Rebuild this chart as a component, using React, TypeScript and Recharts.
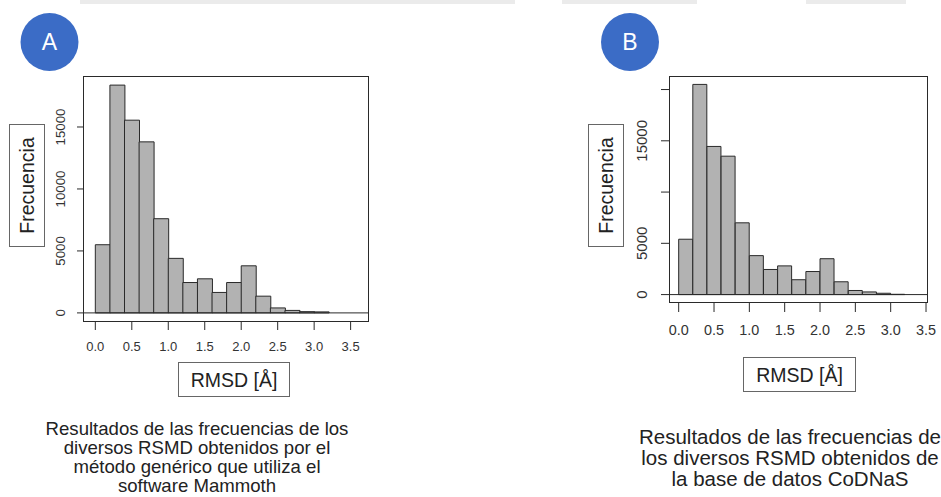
import React from 'react';
import { ComposedChart, Bar, XAxis, YAxis, ReferenceLine } from 'recharts';

// ---- Data ----
const binMidsA = [0.1, 0.3, 0.5, 0.7, 0.9, 1.1, 1.3, 1.5, 1.7, 1.9, 2.1, 2.3, 2.5, 2.7, 2.9, 3.1];
const freqA = [5500, 18380, 15550, 13800, 7600, 4400, 2450, 2750, 1650, 2450, 3800, 1350, 400, 200, 100, 80];

const binMidsB = [0.1, 0.3, 0.5, 0.7, 0.9, 1.1, 1.3, 1.5, 1.7, 1.9, 2.1, 2.3, 2.5, 2.7, 2.9, 3.1];
const freqB = [5400, 20500, 14450, 13500, 7000, 3800, 2450, 2800, 1450, 2250, 3500, 1250, 400, 260, 130, 30];

const xTicks = [0, 0.5, 1, 1.5, 2, 2.5, 3, 3.5];
const yTicksA = [0, 5000, 10000, 15000];
const yLabelsA = [0, 5000, 10000, 15000];
const yTicksB = [0, 5000, 10000, 15000, 20000];
const yLabelsB = [0, 5000, 15000];

const captionA = [
  'Resultados de las frecuencias de los',
  'diversos RSMD obtenidos por el',
  'método genérico que utiliza el',
  'software Mammoth',
];
const captionB = [
  'Resultados de las frecuencias de',
  'los diversos RSMD obtenidos de',
  'la base de datos CoDNaS',
];

const dataA = binMidsA.map((x, i) => ({ x, freq: freqA[i] }));
const dataB = binMidsB.map((x, i) => ({ x, freq: freqB[i] }));

const FONT = '"Liberation Sans", Arial, Helvetica, sans-serif';
const INK = '#2a2a2a';

const makeYTick = (offset: number, fontSize: number, shown: number[]) => (props: any) => {
  const { x, y, payload } = props;
  if (!shown.includes(payload.value)) return <g />;
  const cx = x - offset;
  return (
    <text
      x={cx}
      y={y}
      transform={`rotate(-90 ${cx} ${y})`}
      textAnchor="middle"
      dy="0.36em"
      fontSize={fontSize}
      fontFamily={FONT}
      fill="#333"
    >
      {payload.value}
    </text>
  );
};

type PanelProps = {
  data: { x: number; freq: number }[];
  left: number;
  width: number;
  margin: { top: number; right: number; bottom: number; left: number };
  yWidth: number;
  xDomain: [number, number];
  yDomain: [number, number];
  yTicks: number[];
  yLabels: number[];
  xFont: number;
  yFont: number;
  xTickSize: number;
  yTickSize: number;
  xTickMargin: number;
  yLabelOffset: number;
};

function Panel(p: PanelProps) {
  return (
    <div style={{ position: 'absolute', left: p.left, top: 0 }}>
      <ComposedChart width={p.width} height={497} data={p.data} margin={p.margin} barCategoryGap={0} barGap={0}>
        <XAxis
          dataKey="x"
          type="number"
          domain={p.xDomain}
          allowDataOverflow
          ticks={xTicks}
          interval={0}
          tickFormatter={(v: number) => v.toFixed(1)}
          axisLine={false}
          tickLine={{ stroke: INK }}
          tickSize={p.xTickSize}
          tickMargin={p.xTickMargin}
          height={40}
          tick={{ fontSize: p.xFont, fontFamily: FONT, fill: '#333' }}
        />
        <YAxis
          type="number"
          domain={p.yDomain}
          allowDataOverflow
          ticks={p.yTicks}
          interval={0}
          axisLine={false}
          tickLine={{ stroke: INK }}
          tickSize={p.yTickSize}
          tickMargin={0}
          width={p.yWidth}
          tick={makeYTick(p.yLabelOffset, p.yFont, p.yLabels)}
        />
        <ReferenceLine y={0} stroke={INK} strokeWidth={1} />
        <Bar dataKey="freq" fill="#b2b2b2" stroke={INK} strokeWidth={1} isAnimationActive={false} />
      </ComposedChart>
    </div>
  );
}

export default function App() {
  return (
    <div
      style={{
        position: 'absolute',
        left: 0,
        top: 0,
        width: 941,
        height: 497,
        background: '#ffffff',
        overflow: 'hidden',
        fontFamily: FONT,
      }}
    >
      <Panel
        data={dataA}
        left={0}
        width={470}
        margin={{ top: 76, right: 101, bottom: 135, left: 0 }}
        yWidth={83}
        xDomain={[-0.169, 3.752]}
        yDomain={[-735, 19115]}
        yTicks={yTicksA}
        yLabels={yLabelsA}
        xFont={13}
        yFont={13.3}
        xTickSize={8}
        yTickSize={6}
        xTickMargin={12}
        yLabelOffset={17}
      />
      <Panel
        data={dataB}
        left={560}
        width={381}
        margin={{ top: 76, right: 13, bottom: 154, left: 0 }}
        yWidth={109}
        xDomain={[-0.137, 3.528]}
        yDomain={[-820, 21320]}
        yTicks={yTicksB}
        yLabels={yLabelsB}
        xFont={14.4}
        yFont={15}
        xTickSize={9}
        yTickSize={8}
        xTickMargin={13}
        yLabelOffset={19}
      />
      <svg
        width={941}
        height={497}
        style={{ position: 'absolute', left: 0, top: 0, pointerEvents: 'none' }}
      >
        {/* faint strips at the top edge */}
        <rect x={80} y={0} width={435} height={4} fill="#ebebeb" />
        <rect x={562} y={0} width={135} height={4} fill="#ebebeb" />
        <rect x={806} y={0} width={100} height={4} fill="#ebebeb" />

        {/* plot boxes */}
        <rect x={83.5} y={76.5} width={285} height={245} fill="none" stroke={INK} strokeWidth={1} />
        <rect x={669.5} y={76.5} width={258} height={226} fill="none" stroke={INK} strokeWidth={1} />

        {/* panel markers */}
        <circle cx={49.5} cy={42} r={29} fill="#3b6cc6" />
        <text x={49.5} y={42} dy="0.36em" textAnchor="middle" fontSize={23} fontFamily={FONT} fill="#ffffff">A</text>
        <circle cx={630} cy={42} r={29} fill="#3b6cc6" />
        <text x={630} y={42} dy="0.36em" textAnchor="middle" fontSize={23} fontFamily={FONT} fill="#ffffff">B</text>

        {/* y axis titles */}
        <rect x={9.5} y={124.5} width={35} height={122} fill="#fff" stroke="#666" strokeWidth={1} />
        <text x={27} y={185.5} dy="0.36em" transform="rotate(-90 27 185.5)" textAnchor="middle" fontSize={19.5} fontFamily={FONT} fill="#222">Frecuencia</text>
        <rect x={588.5} y={124.5} width={35} height={122} fill="#fff" stroke="#666" strokeWidth={1} />
        <text x={606} y={185.5} dy="0.36em" transform="rotate(-90 606 185.5)" textAnchor="middle" fontSize={19.5} fontFamily={FONT} fill="#222">Frecuencia</text>

        {/* x axis titles */}
        <rect x={178.5} y={362.5} width={111} height={34} fill="#fff" stroke="#666" strokeWidth={1} />
        <text x={234} y={379.5} dy="0.36em" textAnchor="middle" fontSize={19.5} fontFamily={FONT} fill="#222">RMSD [Å]</text>
        <rect x={743.5} y={357.5} width={112} height={34} fill="#fff" stroke="#666" strokeWidth={1} />
        <text x={799.5} y={374.5} dy="0.36em" textAnchor="middle" fontSize={19.5} fontFamily={FONT} fill="#222">RMSD [Å]</text>

        {/* captions */}
        {captionA.map((line, i) => (
          <text key={'a' + i} x={197} y={428 + i * 19} dy="0.36em" textAnchor="middle" fontSize={18.6} fontFamily={FONT} fill="#222">
            {line}
          </text>
        ))}
        {captionB.map((line, i) => (
          <text key={'b' + i} x={790} y={437 + i * 21} dy="0.36em" textAnchor="middle" fontSize={20.5} fontFamily={FONT} fill="#222">
            {line}
          </text>
        ))}
      </svg>
    </div>
  );
}
